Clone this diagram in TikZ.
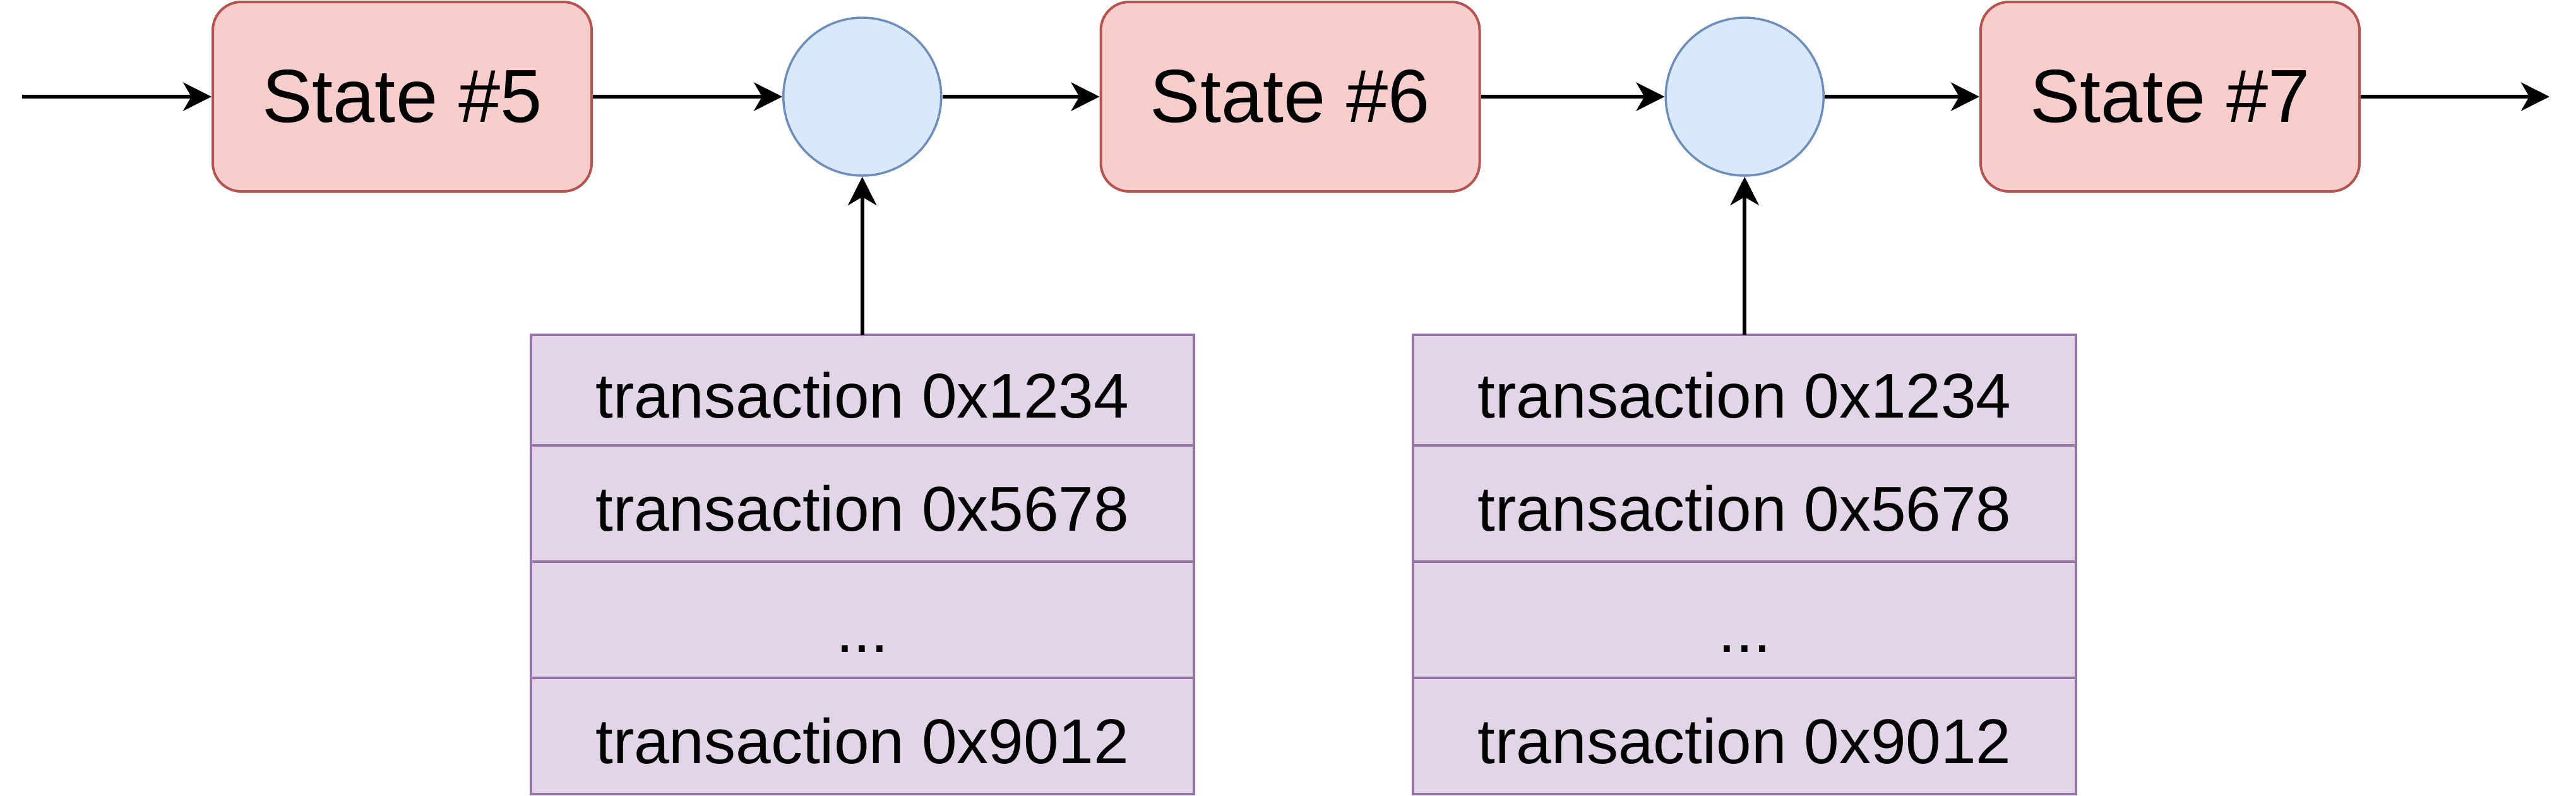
\documentclass[tikz,border=0pt]{standalone}
\usepackage{fontspec}
\setmainfont{Liberation Sans}
\usetikzlibrary{positioning, arrows.meta}

\definecolor{statefill}{HTML}{F8CECC}
\definecolor{statedraw}{HTML}{B85450}
\definecolor{applyfill}{HTML}{DAE8FC}
\definecolor{applydraw}{HTML}{6C8EBF}
\definecolor{txfill}{HTML}{E1D5E7}
\definecolor{txdraw}{HTML}{9673A6}

\begin{document}
\begin{tikzpicture}[
    >={Stealth[length=4.5pt, width=4.5pt, inset=1.3pt]}, % Classic arrow heads
    % Styles
    state/.style={ % State of the chain
        rectangle,
        rounded corners=4.5pt,
        draw=statedraw,
        fill=statefill,
        line width=0.4pt,
        minimum width=60pt,
        minimum height=30pt,
        font=\fontsize{11.9}{14}\selectfont
    },
    apply/.style={ % Transition between states
        circle,
        draw=applydraw,
        fill=applyfill,
        line width=0.35pt,
        minimum size=25pt,
        inner sep=0pt
    },
    tx/.style={ % One row of the transaction list
        rectangle,
        draw=txdraw,
        fill=txfill,
        line width=0.4pt,
        minimum width=105pt,
        minimum height=18.4pt,
        inner sep=0pt,
        outer sep=0pt,
        text height=8.8pt,
        text depth=0pt,
        font=\fontsize{10}{12}\selectfont
    },
    arrow/.style={
        ->,
        line width=0.6pt
    }
]
    \useasboundingbox (0,0) rectangle (408pt,-126pt);

    % States and transitions
    \node[state] (s5) at (63.7pt,-15.3pt) {State \#5};
    \node[apply] (a1) [right=30pt of s5] {};
    \node[state] (s6) [right=24.9pt of a1] {State \#6};
    \node[apply] (a2) [right=29.1pt of s6] {};
    \node[state] (s7) [right=24.5pt of a2] {State \#7};
    \coordinate[left=30pt of s5] (in);
    \coordinate[right=29.9pt of s7] (out);

    % Transactions of the first transition
    \node[tx, minimum height=17.5pt] (t1a) [below=25pt of a1] {transaction 0x1234};
    \node[tx] (t1b) [below=0pt of t1a] {transaction 0x5678};
    \node[tx, text height=10.4pt] (t1c) [below=0pt of t1b] {...};
    \node[tx] (t1d) [below=0pt of t1c] {transaction 0x9012};

    % Transactions of the second transition
    \node[tx, minimum height=17.5pt] (t2a) [below=25pt of a2] {transaction 0x1234};
    \node[tx] (t2b) [below=0pt of t2a] {transaction 0x5678};
    \node[tx, text height=10.4pt] (t2c) [below=0pt of t2b] {...};
    \node[tx] (t2d) [below=0pt of t2c] {transaction 0x9012};

    % Edges
    \draw[arrow] (in) -- (s5);
    \draw[arrow] (s5) -- (a1);
    \draw[arrow] (a1) -- (s6);
    \draw[arrow] (s6) -- (a2);
    \draw[arrow] (a2) -- (s7);
    \draw[arrow] (s7) -- (out);
    \draw[arrow] (t1a) -- (a1);
    \draw[arrow] (t2a) -- (a2);
\end{tikzpicture}
\end{document}
